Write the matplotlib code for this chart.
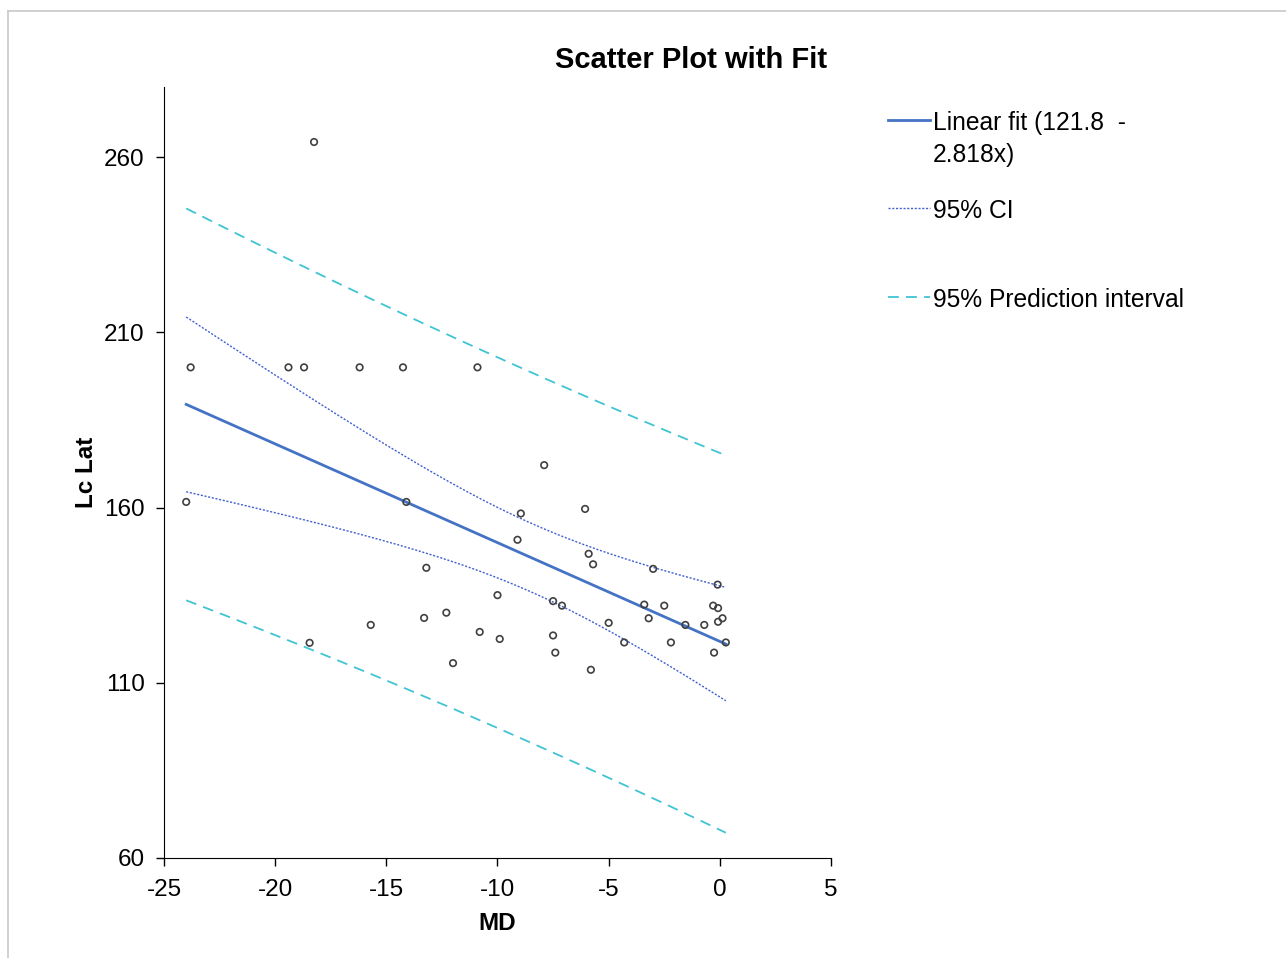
import matplotlib.pyplot as plt
import numpy as np
from matplotlib.lines import Line2D

plt.rcParams['font.family'] = ['Liberation Sans', 'DejaVu Sans']
plt.rcParams['axes.unicode_minus'] = False

# MD vs Lc Lat
md = np.asarray([-24.0, -23.8, -19.4, -18.7, -18.25, -18.45, -16.2, -15.7, -14.25, -14.1,
                 -13.2, -13.3, -12.3, -12.0, -10.9, -10.8, -10.0, -9.9, -9.1, -8.95,
                 -7.9, -7.5, -7.5, -7.4, -7.1, -6.06, -5.9, -5.7, -5.8, -5.0,
                 -4.3, -3.4, -3.2, -3.0, -2.5, -2.2, -1.55, -0.7, -0.3, -0.1,
                 -0.08, -0.08, 0.12, -0.26, 0.27])
lc_lat = np.asarray([161.6, 200, 200, 200, 264.3, 121.4, 200, 126.5, 200, 161.6,
                     142.8, 128.5, 130, 115.6, 200, 124.5, 135, 122.5, 150.8, 158.3,
                     172.1, 133.3, 123.5, 118.6, 132, 159.6, 146.8, 143.8, 113.7, 127.1,
                     121.5, 132.3, 128.4, 142.5, 132, 121.5, 126.5, 126.5, 132, 138,
                     131.3, 127.4, 128.4, 118.6, 121.5])

intercept, slope = 121.8, -2.818
fit_label = "Linear fit (121.8  -\n2.818x)"
ci_label = "95% CI"
pi_label = "95% Prediction interval"

# bands around the fit
n = len(md)
resid = lc_lat - (intercept + slope * md)
s = np.sqrt(np.sum(resid ** 2) / (n - 2))
xbar = md.mean()
sxx = np.sum((md - xbar) ** 2)
t = 2.017                 # t(0.975, 43)
w = np.sqrt(2 * 3.214)    # Working-Hotelling band for the mean, F(0.95; 2, 43)
xs = np.linspace(md.min(), md.max(), 200)
yfit = intercept + slope * xs
se_ci = s * np.sqrt(1.0 / n + (xs - xbar) ** 2 / sxx)
se_pi = s * np.sqrt(1 + 1.0 / n + (xs - xbar) ** 2 / sxx)

fit_c = '#4472C4'
ci_c = '#4060D0'
pi_c = '#40C4D4'
ci_ls = (0, (1.5, 1.2))
pi_ls = (0, (6, 4))

fig = plt.figure(figsize=(12.86, 9.58), dpi=100)
ax = fig.add_axes([0.1275, 0.1044, 0.5187, 0.8048])

ax.plot(xs, yfit, color=fit_c, lw=2)
ax.plot(xs, yfit + w * se_ci, color=ci_c, lw=1, ls=ci_ls)
ax.plot(xs, yfit - w * se_ci, color=ci_c, lw=1, ls=ci_ls)
ax.plot(xs, yfit + t * se_pi, color=pi_c, lw=1.3, ls=pi_ls)
ax.plot(xs, yfit - t * se_pi, color=pi_c, lw=1.3, ls=pi_ls)
ax.scatter(md, lc_lat, s=22, facecolors='none', edgecolors='#404040', linewidths=1.2, zorder=3)

ax.set_xlim(-25, 5)
ax.set_ylim(60, 280)
ax.set_xticks([-25, -20, -15, -10, -5, 0, 5])
ax.set_yticks([60, 110, 160, 210, 260])
ax.spines['top'].set_visible(False)
ax.spines['right'].set_visible(False)
ax.tick_params(labelsize=17.5, length=6, width=1)
ax.tick_params(axis='y', pad=8)
ax.tick_params(axis='x', pad=9)
ax.set_xlabel("MD", fontsize=17.5, fontweight='bold', labelpad=8)
ax.set_ylabel("Lc Lat", fontsize=17.5, fontweight='bold', labelpad=4)

fig.text(0.537, 0.937, "Scatter Plot with Fit", fontsize=21, fontweight='bold',
         ha='center', va='center')

# legend on the right
W, H = 1286, 958
entries = [(120, fit_label, dict(color=fit_c, lw=2)),
           (208, ci_label, dict(color=ci_c, lw=1, ls=ci_ls)),
           (297, pi_label, dict(color=pi_c, lw=1.3, ls=pi_ls))]
for ypx, lab, kw in entries:
    fig.add_artist(Line2D([888 / W, 930 / W], [1 - ypx / H] * 2, transform=fig.transFigure, **kw))
    fig.text(933 / W, 1 - (ypx - 9) / H, lab, fontsize=17.7, ha='left', va='top', linespacing=1.43)

# light border around the picture
fig.add_artist(Line2D([8 / W, 1], [1 - 10.5 / H] * 2, transform=fig.transFigure, color='#c8c8c8', lw=1.2))
fig.add_artist(Line2D([8 / W] * 2, [0, 1 - 10.5 / H], transform=fig.transFigure, color='#c8c8c8', lw=1.2))

fig.savefig("out.png", dpi=100)
